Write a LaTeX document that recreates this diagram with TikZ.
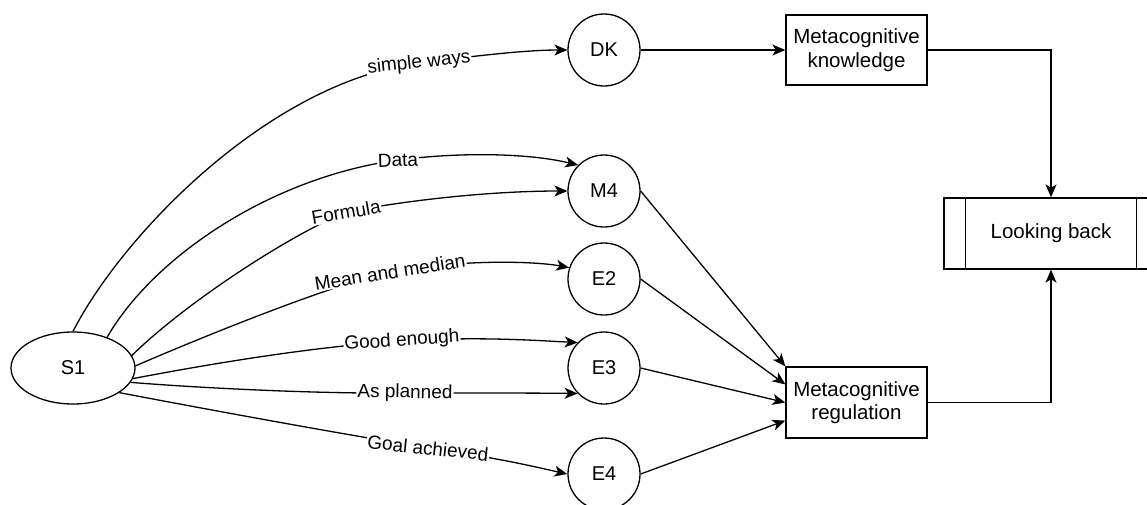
\documentclass[tikz,border=0pt]{standalone}
\usepackage{fontspec}
\setmainfont{Liberation Sans}
\usetikzlibrary{arrows.meta,calc,shapes.geometric}
\begin{document}
\begin{tikzpicture}[x=1pt,y=-1pt,line width=1.3pt,
  statenode/.style={circle,draw,minimum size=72pt,inner sep=0pt,
    font=\fontsize{20}{24}\selectfont},
  startnode/.style={ellipse,draw,minimum width=124pt,minimum height=72pt,
    inner sep=0pt,font=\fontsize{20}{24}\selectfont},
  textbox/.style={rectangle,draw,minimum width=141pt,minimum height=70pt,
    inner sep=0pt,align=center,font=\fontsize{20.5}{23.5}\selectfont},
  procbox/.style={rectangle,draw,minimum width=214pt,minimum height=71pt,
    inner sep=0pt,font=\fontsize{20.5}{23.5}\selectfont},
  edgelabel/.style={fill=white,inner sep=1pt,font=\fontsize{19}{22}\selectfont},
  link/.style={-{Stealth[length=13pt,width=11pt,inset=3.5pt]}},
]
\useasboundingbox (0,0) rectangle (1147,504);
\clip (0,0) rectangle (1147,504);

% states
\node[startnode] (S1) at (73,368) {S1};
\node[statenode] (DK) at (604,50) {DK};
\node[statenode] (M4) at (604,191) {M4};
\node[statenode] (E2) at (604,279) {E2};
\node[statenode] (E3) at (604,368) {E3};
\node[statenode] (E4) at (604,474) {E4};

% metacognition boxes
\node[textbox] (MK) at (856.5,50) {Metacognitive\\knowledge};
\node[textbox,minimum height=71pt] (MR) at (856.5,402.5) {Metacognitive\\regulation};

% predefined process box
\node[procbox] (LB) at (1051,233.5) {Looking back};
\draw ($(LB.north west)+(22,0)$) -- ($(LB.south west)+(22,0)$);
\draw ($(LB.north east)+(-22,0)$) -- ($(LB.south east)+(-22,0)$);

% curved transitions out of S1
\draw[link] (S1.north) .. controls (123,234) and (270,82) .. (419,63)
  node[edgelabel,rotate=6] {simple ways}
  .. controls (490,54) and (530,50) .. (DK.west);
\draw[link] (S1.42) .. controls (152,259) and (268,178) .. (398,160)
  node[edgelabel,rotate=2] {Data}
  .. controls (460,152) and (528,153) .. (M4.135);
\draw[link] (S1.12) .. controls (183,305) and (286,237) .. (346,212)
  node[edgelabel,rotate=10] {Formula}
  .. controls (420,198) and (500,191) .. (M4.west);
\draw[link] (S1.2) .. controls (200,338) and (330,285) .. (390,272)
  node[edgelabel,rotate=9] {Mean and median}
  .. controls (470,258) and (540,262) .. (E2.162);
\draw[link] (S1.-10) .. controls (220,362) and (320,346) .. (402,341)
  node[edgelabel,rotate=4] {Good enough}
  .. controls (480,336) and (545,341) .. (E3.136);
\draw[link] (S1.-14) .. controls (200,388) and (320,394) .. (405,393)
  node[edgelabel,rotate=-1] {As planned}
  .. controls (480,393) and (540,393) .. (E3.224);
\draw[link] (S1.-28) .. controls (200,408) and (330,432) .. (428,448)
  node[edgelabel,rotate=-6] {Goal achieved}
  .. controls (500,458) and (540,468) .. (E4.west);

% right-hand flow
\draw[link] (DK) -- (MK);
\draw[link] (MK.east) -| (LB.north);
\draw[link] (MR.east) -| (LB.south);
\draw[link] (M4.east) -- (MR.north west);
\draw[link] (E2.east) -- ($(MR.north west)!0.25!(MR.south west)$);
\draw[link] (E3.east) -- (MR.west);
\draw[link] (E4.east) -- ($(MR.north west)!0.75!(MR.south west)$);
\end{tikzpicture}
\end{document}
